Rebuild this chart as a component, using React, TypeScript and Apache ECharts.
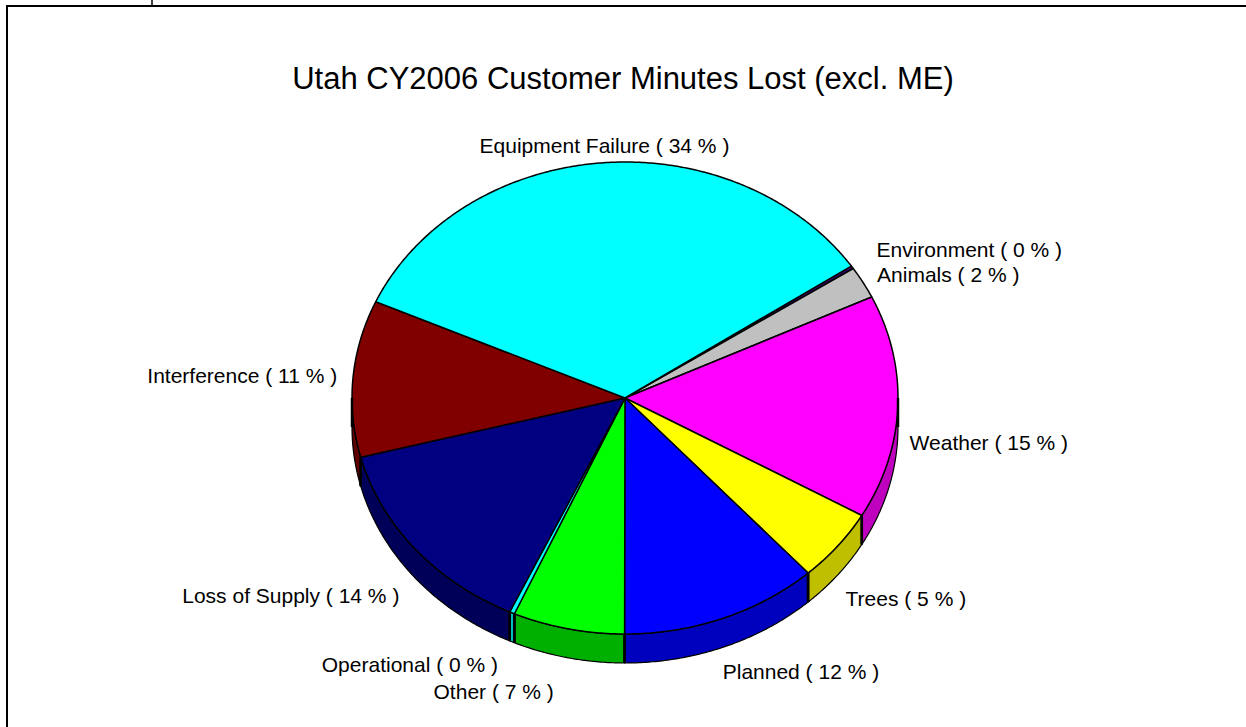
import React, { useEffect, useRef } from 'react';
import * as echarts from 'echarts';

const titleText = 'Utah CY2006 Customer Minutes Lost (excl. ME)';
const categories = ['Environment', 'Animals', 'Weather', 'Trees', 'Planned', 'Other', 'Operational', 'Loss of Supply', 'Interference', 'Equipment Failure'];
const values = [0.2, 2.2, 15.3, 5.0, 11.7, 6.6, 0.3, 14.0, 10.7, 33.8];
const topColors = ['#400080', '#C0C0C0', '#FF00FF', '#FFFF00', '#0000FF', '#00FF00', '#00FFFF', '#000080', '#800000', '#00FFFF'];
const sideColors = ['#300060', '#909090', '#BF00BF', '#BFBF00', '#0000BF', '#00B000', '#00BFBF', '#000058', '#600000', '#00BFBF'];
const labelNudge = [[6, -7], [-5, 1], [-10, 5], [-9, 12], [-8, 7], [-10, 15], [-5, 5], [1, 5], [6, -1], [5, 1]];

const CX = 625, CY = 398, RX = 273, RY = 236, DEPTH = 29, START = 34, K = 1.08;
const FONT = '"Liberation Sans", Arial, Helvetica, sans-serif';

const total = values.reduce((a, b) => a + b, 0);
const spans = values.map((v) => (v / total) * 360);
const starts: number[] = [];
{
  let acc = START;
  spans.forEach((s) => { starts.push(acc); acc -= s; });
}

function pt(deg: number, dy = 0): number[] {
  const r = (deg * Math.PI) / 180;
  return [CX + RX * Math.cos(r), CY - RY * Math.sin(r) + dy];
}
function arc(from: number, to: number, dy: number): number[][] {
  const n = Math.max(2, Math.ceil(Math.abs(from - to) / 0.5) + 1);
  const pts: number[][] = [];
  for (let k = 0; k < n; k++) pts.push(pt(from + ((to - from) * k) / (n - 1), dy));
  return pts;
}

function renderWall(params: any) {
  const i = params.dataIndex;
  const hi = Math.min(starts[i], 0);
  const lo = Math.max(starts[i] - spans[i], -180);
  if (hi <= lo) return { type: 'group', children: [] };
  const points = [...arc(hi, lo, 0), ...arc(lo, hi, DEPTH)];
  return {
    type: 'polygon',
    shape: { points },
    style: { fill: sideColors[i], stroke: '#000', lineWidth: 1.2, lineJoin: 'round' },
  };
}

function renderTop(params: any) {
  const i = params.dataIndex;
  const hi = starts[i];
  const lo = starts[i] - spans[i];
  const children: any[] = [];
  children.push({
    type: 'polygon',
    shape: { points: [[CX, CY], ...arc(hi, lo, 0)] },
    style: { fill: topColors[i], stroke: '#000', lineWidth: 1.5, lineJoin: 'round' },
  });
  const edges: number[] = [];
  [hi, lo].forEach((a) => { if (a <= 0 && a >= -180) edges.push(a); });
  if (hi > 0 && lo < 0) edges.push(0);
  if (hi > -180 && lo < -180) edges.push(-180);
  edges.forEach((a) => {
    const p = pt(a, 0);
    children.push({
      type: 'line',
      shape: { x1: p[0], y1: p[1], x2: p[0], y2: p[1] + DEPTH },
      style: { stroke: '#000', lineWidth: 2.5 },
    });
  });
  const mid = (hi + lo) / 2;
  const r = (mid * Math.PI) / 180;
  const c = Math.cos(r), s = Math.sin(r);
  const x = CX + K * RX * c + labelNudge[i][0];
  const y = CY - K * RY * s + (s < 0 ? DEPTH : 0) + labelNudge[i][1];
  const align = c > 0.15 ? 'left' : c < -0.15 ? 'right' : 'center';
  const pct = Math.round((values[i] / total) * 100);
  children.push({
    type: 'text',
    style: {
      text: `${categories[i]} ( ${pct} % )`,
      x, y,
      fill: '#000',
      font: `21px ${FONT}`,
      align, verticalAlign: 'middle',
      textAlign: align, textVerticalAlign: 'middle',
    },
  });
  return { type: 'group', children };
}

export default function App() {
  const ref = useRef<HTMLDivElement>(null);
  useEffect(() => {
    if (!ref.current) return;
    const chart = echarts.init(ref.current, null, { renderer: 'svg' });
    chart.setOption({
      animation: false,
      backgroundColor: '#fff',
      title: {
        text: titleText,
        left: 'center',
        top: 58,
        textStyle: { fontSize: 31, fontWeight: 'normal', color: '#000', fontFamily: FONT },
      },
      graphic: [
        { type: 'line', shape: { x1: 7, y1: 5, x2: 7, y2: 727 }, style: { stroke: '#000', lineWidth: 2 } },
        { type: 'line', shape: { x1: 6, y1: 6, x2: 1246, y2: 6 }, style: { stroke: '#000', lineWidth: 2 } },
        { type: 'line', shape: { x1: 152, y1: 0, x2: 152, y2: 5 }, style: { stroke: '#000', lineWidth: 1.5 } },
      ],
      series: [
        { type: 'custom', coordinateSystem: 'none', silent: true, z: 1, data: values.map((v, i) => [v, i]), renderItem: renderWall },
        { type: 'custom', coordinateSystem: 'none', silent: true, z: 2, data: values.map((v, i) => [v, i]), renderItem: renderTop },
      ],
    });
    return () => chart.dispose();
  }, []);
  return <div ref={ref} style={{ position: 'absolute', left: 0, top: 0, width: 1246, height: 727 }} />;
}
